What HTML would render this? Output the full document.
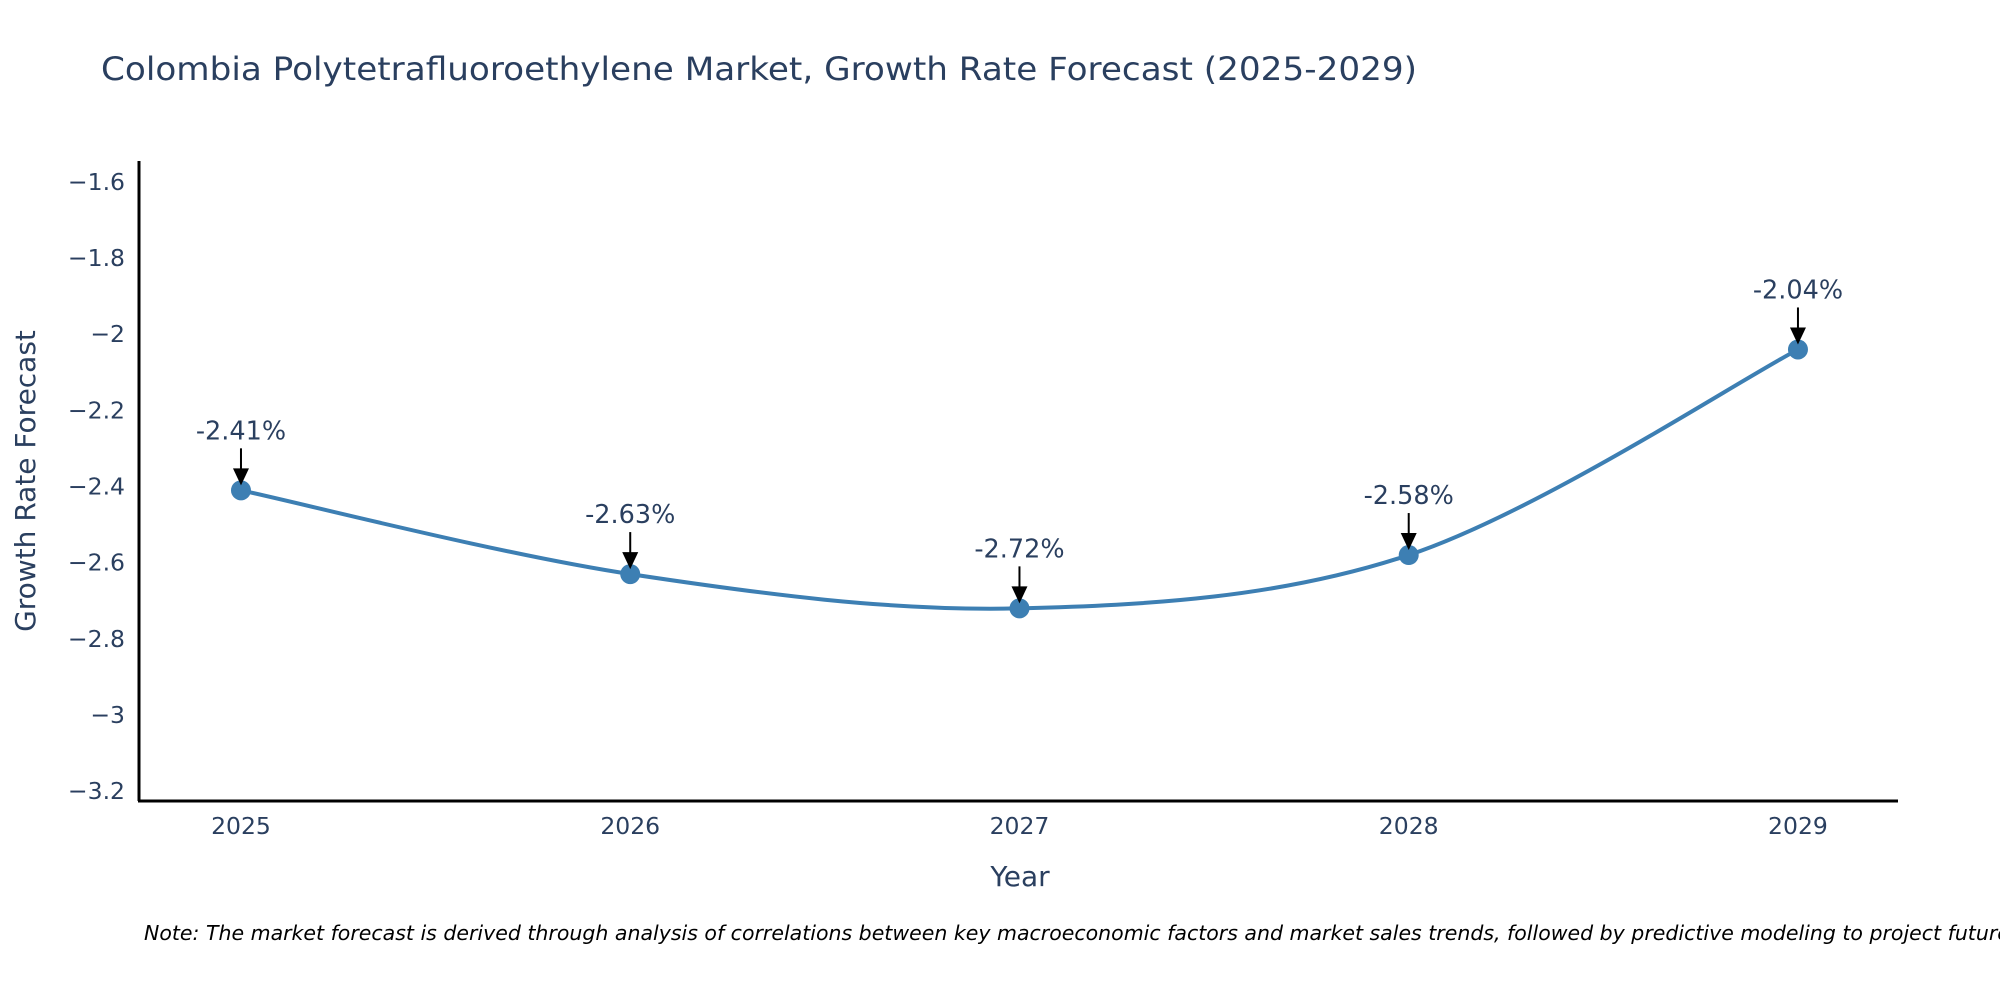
<!DOCTYPE html>
<html><head><meta charset="utf-8"><style>
html,body{margin:0;padding:0;background:#fff;}
svg{display:block;font-family:"DejaVu Sans","Liberation Sans",sans-serif;}
</style></head><body>
<svg id="chart" width="2000" height="1000" viewBox="0 0 2000 1000">
<text x="101" y="80" font-size="32" fill="#2a3f5f" textLength="1316" lengthAdjust="spacingAndGlyphs">Colombia Polytetrafluoroethylene Market, Growth Rate Forecast (2025-2029)</text>
<g id="yticks"></g>
<g id="xticks"></g>
<path id="line" fill="none" stroke="#3d7fb3" stroke-width="4"></path>
<g id="points"></g>
<g id="annos"></g>
<line x1="139" y1="161" x2="139" y2="801" stroke="#000" stroke-width="3"/>
<line x1="138" y1="801" x2="1898" y2="801" stroke="#000" stroke-width="3"/>
<text transform="translate(35,481) rotate(-90)" text-anchor="middle" font-size="28" fill="#2a3f5f">Growth Rate Forecast</text>
<text x="1020" y="886" text-anchor="middle" font-size="28" fill="#2a3f5f">Year</text>
<text x="144" y="940" font-size="20.5" font-style="italic" fill="#000">Note: The market forecast is derived through analysis of correlations between key macroeconomic factors and market sales trends, followed by predictive modeling to project future sales.</text>
</svg>
<script>
const years = [2025, 2026, 2027, 2028, 2029];
const values = [-2.41, -2.63, -2.72, -2.58, -2.04];
const labels = ["-2.41%", "-2.63%", "-2.72%", "-2.58%", "-2.04%"];
const yTicks = [-1.6, -1.8, -2, -2.2, -2.4, -2.6, -2.8, -3, -3.2];
const NS = "http://www.w3.org/2000/svg";
const X0 = 139, X1 = 1898, Y0 = 161, Y1 = 801;
const xMin = 2024.738, xMax = 2029.257, yMin = -3.226, yMax = -1.545;
function sx(v){return X0 + (v - xMin) / (xMax - xMin) * (X1 - X0);}
function sy(v){return Y1 - (v - yMin) / (yMax - yMin) * (Y1 - Y0);}
function mk(tag, attrs){const e = document.createElementNS(NS, tag); for (const k in attrs) e.setAttribute(k, attrs[k]); return e;}
const yg = document.getElementById('yticks');
yTicks.forEach(t => {
  const e = mk('text', {x: 125, y: sy(t) + 8, 'text-anchor': 'end', 'font-size': 23.5, fill: '#2a3f5f'});
  
  
  e.textContent = (t < 0 ? '\u2212' : '') + String(Math.abs(t));
  yg.appendChild(e);
});
const xg = document.getElementById('xticks');
years.forEach(y => {
  const e = mk('text', {x: sx(y), y: 834, 'text-anchor': 'middle', 'font-size': 23.5, fill: '#2a3f5f'});
  
  
  e.textContent = y;
  xg.appendChild(e);
});
const pts = years.map((y, i) => [sx(y), sy(values[i])]);
let d = 'M' + pts[0][0] + ',' + pts[0][1];
const s = 0.33;
for (let i = 0; i < pts.length - 1; i++) {
  const p0 = pts[Math.max(i - 1, 0)], p1 = pts[i], p2 = pts[i + 1], p3 = pts[Math.min(i + 2, pts.length - 1)];
  const c1 = [p1[0] + (p2[0] - p0[0]) * s / 2, p1[1] + (p2[1] - p0[1]) * s / 2];
  const c2 = [p2[0] - (p3[0] - p1[0]) * s / 2, p2[1] - (p3[1] - p1[1]) * s / 2];
  d += ' C' + c1.join(',') + ' ' + c2.join(',') + ' ' + p2.join(',');
}
document.getElementById('line').setAttribute('d', d);
const pg = document.getElementById('points'), ag = document.getElementById('annos');
pts.forEach((p, i) => {
  const c = mk('circle', {cx: p[0], cy: p[1], r: 10, fill: '#3d7fb3'});
  
  
  pg.appendChild(c);
  const ln = mk('line', {x1: p[0], y1: p[1] - 42, x2: p[0], y2: p[1] - 18, stroke: '#000', 'stroke-width': 2});
  
  
  ag.appendChild(ln);
  const hd = mk('path', {d: 'M' + (p[0] - 8) + ',' + (p[1] - 22) + ' L' + (p[0] + 8) + ',' + (p[1] - 22) + ' L' + p[0] + ',' + (p[1] - 5) + 'Z', fill: '#000'});
  
  
  ag.appendChild(hd);
  const t = mk('text', {x: p[0], y: p[1] - 51, 'text-anchor': 'middle', 'font-size': 25.5, fill: '#2a3f5f'});
  
  
  t.textContent = labels[i];
  ag.appendChild(t);
});
</script>
</body></html>
